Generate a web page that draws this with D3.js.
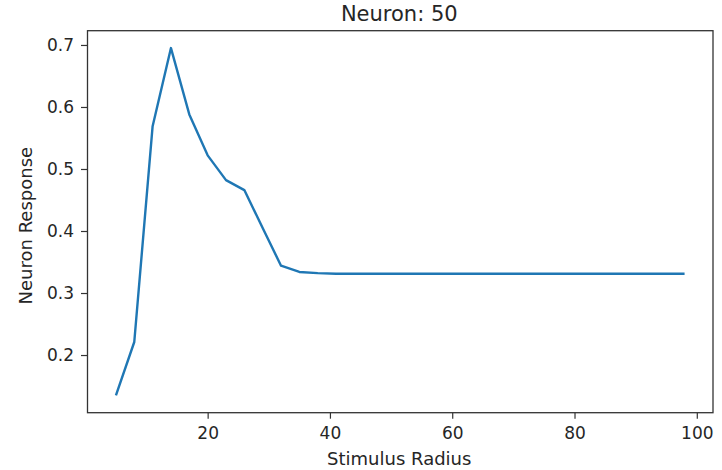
<!DOCTYPE html>
<html>
<head>
<meta charset="utf-8">
<script src="https://cdn.jsdelivr.net/npm/d3@7"></script>
<style>
  body { margin: 0; background: #fff; }
  svg text { font-family: "DejaVu Sans", sans-serif; fill: #262626; }
  .line { fill: none; stroke: #1f77b4; stroke-width: 2.4px; stroke-linejoin: round; }
  .frame { fill: none; stroke: #333; stroke-width: 1.3px; }
</style>
</head>
<body>
<svg id="chart"></svg>
<script>
const title = 'Neuron: 50';
const xLabel = 'Stimulus Radius';
const yLabel = 'Neuron Response';

const radius = [5, 8, 11, 14, 17, 20, 23, 26, 29, 32, 35, 38, 41, 44, 47, 50,
  53, 56, 59, 62, 65, 68, 71, 74, 77, 80, 83, 86, 89, 92, 95, 98];
const response = [0.135, 0.221, 0.569, 0.695, 0.588, 0.522, 0.482, 0.466, 0.405, 0.344,
  0.334, 0.332, 0.331, 0.331, 0.331, 0.331, 0.331, 0.331, 0.331, 0.331, 0.331,
  0.331, 0.331, 0.331, 0.331, 0.331, 0.331, 0.331, 0.331, 0.331, 0.331, 0.331];
const xTicks = [20, 40, 60, 80, 100];
const yTicks = [0.2, 0.3, 0.4, 0.5, 0.6, 0.7];

const width = 722, height = 470;
const margin = { top: 30.7, right: 9, bottom: 57.3, left: 87.5 };

const svg = d3.select('#chart').attr('width', width).attr('height', height);
const data = radius.map((r, i) => ({ x: r, y: response[i] }));

// matplotlib style 5% padding around the data
const pad = (ext) => { const d = (ext[1] - ext[0]) * 0.05; return [ext[0] - d, ext[1] + d]; };

const xScale = d3.scaleLinear()
  .domain(pad(d3.extent(data, d => d.x)))
  .range([margin.left, width - margin.right]);
const yScale = d3.scaleLinear()
  .domain(pad(d3.extent(data, d => d.y)))
  .range([height - margin.bottom, margin.top]);

const xAxis = d3.axisBottom(xScale).tickValues(xTicks).tickSize(6).tickPadding(8).tickFormat(d3.format('d'));
const yAxis = d3.axisLeft(yScale).tickValues(yTicks).tickSize(6.5).tickPadding(7).tickFormat(d3.format('.1f'));

const gx = svg.append('g')
  .attr('transform', `translate(0, ${height - margin.bottom})`)
  .call(xAxis);
const gy = svg.append('g')
  .attr('transform', `translate(${margin.left}, 0)`)
  .call(yAxis);

[gx, gy].forEach(g => {
  g.select('.domain').remove();
  g.selectAll('.tick line').attr('stroke', '#333').attr('stroke-width', 1.2);
  g.selectAll('.tick text').attr('font-size', 17).style('font-family', '"DejaVu Sans", sans-serif').attr('fill', '#262626');
});

const line = d3.line()
  .x(d => xScale(d.x))
  .y(d => yScale(d.y));

svg.append('path')
  .datum(data)
  .attr('class', 'line')
  .attr('d', line);

svg.append('rect')
  .attr('class', 'frame')
  .attr('x', margin.left)
  .attr('y', margin.top)
  .attr('width', width - margin.right - margin.left)
  .attr('height', height - margin.bottom - margin.top);

const cx = (margin.left + width - margin.right) / 2;
const cy = (margin.top + height - margin.bottom) / 2;

svg.append('text')
  .attr('x', cx - 1)
  .attr('y', 20.7)
  .attr('text-anchor', 'middle')
  .attr('font-size', 21)
  .text(title);

svg.append('text')
  .attr('x', cx - 1)
  .attr('y', 465)
  .attr('text-anchor', 'middle')
  .attr('font-size', 18)
  .text(xLabel);

svg.append('text')
  .attr('transform', `translate(32, ${cy + 4}) rotate(-90)`)
  .attr('text-anchor', 'middle')
  .attr('font-size', 18)
  .text(yLabel);
</script>
</body>
</html>
